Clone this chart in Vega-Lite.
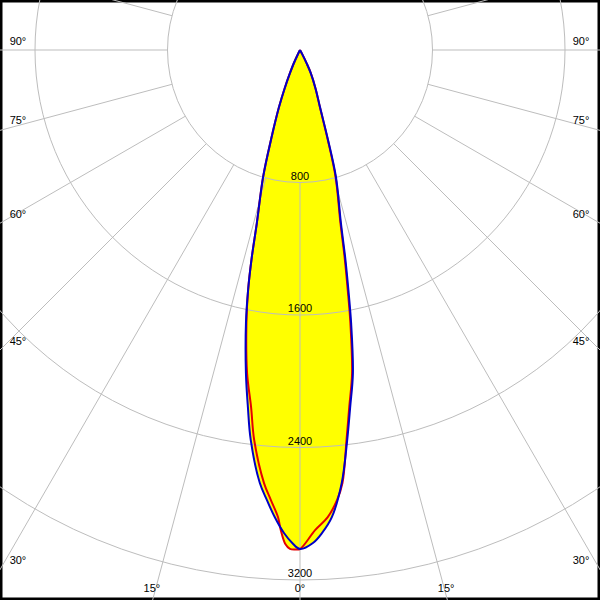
{
  "$schema": "https://vega.github.io/schema/vega-lite/v6.json",
  "width": 600,
  "height": 600,
  "autosize": {"type": "none"},
  "padding": 0,
  "background": "white",
  "config": {"view": {"stroke": "#000000", "strokeWidth": 5}},
  "datasets": {
    "blue": [
      {"a": -180, "i": 0}, {"a": -27.5, "i": 0}, {"a": -26.5, "i": 30}, {"a": -25, "i": 90},
      {"a": -23.5, "i": 151}, {"a": -21.8, "i": 250}, {"a": -20.2, "i": 367}, {"a": -17.9, "i": 571},
      {"a": -16.2, "i": 799}, {"a": -14.0, "i": 1077}, {"a": -13.1, "i": 1283}, {"a": -12.2, "i": 1483},
      {"a": -11.2, "i": 1680}, {"a": -9.5, "i": 1978}, {"a": -8.3, "i": 2179}, {"a": -7.2, "i": 2373},
      {"a": -5.3, "i": 2626}, {"a": -4.2, "i": 2725}, {"a": -3.1, "i": 2824}, {"a": -1.9, "i": 2918},
      {"a": -0.9, "i": 2977}, {"a": 0, "i": 3013}, {"a": 1.5, "i": 2978}, {"a": 2.6, "i": 2920},
      {"a": 3.9, "i": 2827}, {"a": 5.5, "i": 2627}, {"a": 6.9, "i": 2372}, {"a": 8.0, "i": 2177},
      {"a": 9.3, "i": 1977}, {"a": 10.6, "i": 1678}, {"a": 11.4, "i": 1478}, {"a": 12.3, "i": 1279},
      {"a": 13.3, "i": 1074}, {"a": 15.8, "i": 797}, {"a": 17.3, "i": 569}, {"a": 19.3, "i": 365},
      {"a": 22, "i": 250}, {"a": 25, "i": 154}, {"a": 26.5, "i": 90}, {"a": 28, "i": 30},
      {"a": 29, "i": 0}, {"a": 180, "i": 0}
    ],
    "red": [
      {"a": -180, "i": 0}, {"a": -27.5, "i": 0}, {"a": -26.5, "i": 30}, {"a": -25, "i": 90},
      {"a": -23.5, "i": 151}, {"a": -21.8, "i": 250}, {"a": -20.2, "i": 367}, {"a": -17.9, "i": 571},
      {"a": -16.2, "i": 799}, {"a": -14.0, "i": 1077}, {"a": -13.1, "i": 1283}, {"a": -12.2, "i": 1483},
      {"a": -11.1, "i": 1680}, {"a": -9.3, "i": 1977}, {"a": -7.8, "i": 2176}, {"a": -6.7, "i": 2371},
      {"a": -4.75, "i": 2624}, {"a": -3.7, "i": 2723}, {"a": -2.7, "i": 2823}, {"a": -2.3, "i": 2900},
      {"a": -1.7, "i": 2984}, {"a": -1.15, "i": 3013}, {"a": -0.5, "i": 3016}, {"a": 0, "i": 3013},
      {"a": 1.8, "i": 2900}, {"a": 3.4, "i": 2825}, {"a": 4.7, "i": 2727}, {"a": 5.6, "i": 2627},
      {"a": 6.8, "i": 2372}, {"a": 7.85, "i": 2177}, {"a": 9.15, "i": 1977}, {"a": 10.45, "i": 1678},
      {"a": 11.25, "i": 1478}, {"a": 12.15, "i": 1279}, {"a": 13.15, "i": 1074}, {"a": 15.65, "i": 797},
      {"a": 17.2, "i": 569}, {"a": 19.2, "i": 365}, {"a": 22, "i": 250}, {"a": 25, "i": 154},
      {"a": 26.5, "i": 90}, {"a": 28, "i": 30}, {"a": 29, "i": 0}, {"a": 180, "i": 0}
    ],
    "spokes": [
      {"a": -165}, {"a": -150}, {"a": -135}, {"a": -120}, {"a": -105}, {"a": -90}, {"a": -75}, {"a": -60},
      {"a": -45}, {"a": -30}, {"a": -15}, {"a": 0}, {"a": 15}, {"a": 30}, {"a": 45}, {"a": 60},
      {"a": 75}, {"a": 90}, {"a": 105}, {"a": 120}, {"a": 135}, {"a": 150}, {"a": 165}, {"a": 180}
    ],
    "rings": [
      {"r": 800, "t": "800"}, {"r": 1600, "t": "1600"}, {"r": 2400, "t": "2400"}, {"r": 3200, "t": "3200"}
    ],
    "angleLabels": [
      {"t": "90°", "lx": -1703, "ly": 48},
      {"t": "75°", "lx": -1703, "ly": -429},
      {"t": "60°", "lx": -1703, "ly": -996},
      {"t": "45°", "lx": -1703, "ly": -1763},
      {"t": "30°", "lx": -1703, "ly": -3085},
      {"t": "15°", "lx": -894, "ly": -3254},
      {"t": "0°", "lx": 0, "ly": -3254},
      {"t": "15°", "lx": 882, "ly": -3254},
      {"t": "30°", "lx": 1697, "ly": -3085},
      {"t": "45°", "lx": 1697, "ly": -1763},
      {"t": "60°", "lx": 1697, "ly": -996},
      {"t": "75°", "lx": 1697, "ly": -429},
      {"t": "90°", "lx": 1697, "ly": 48}
    ]
  },
  "encoding": {
    "x": {"field": "x", "type": "quantitative", "axis": null,
          "scale": {"domain": [-1811.32, 1811.32], "nice": false, "zero": false}},
    "y": {"field": "y", "type": "quantitative", "axis": null,
          "scale": {"domain": [-3320.75, 301.89], "nice": false, "zero": false}}
  },
  "layer": [
    {
      "data": {"name": "blue"},
      "transform": [
        {"calculate": "datum.i * sin(datum.a * PI / 180)", "as": "x"},
        {"calculate": "-datum.i * cos(datum.a * PI / 180)", "as": "y"}
      ],
      "mark": {"type": "line", "interpolate": "catmull-rom", "fill": "#ffff00", "stroke": null, "strokeWidth": 0, "clip": true},
      "encoding": {"order": {"field": "a", "type": "quantitative"}}
    },
    {
      "data": {"name": "red"},
      "transform": [
        {"calculate": "datum.i * sin(datum.a * PI / 180)", "as": "x"},
        {"calculate": "-datum.i * cos(datum.a * PI / 180)", "as": "y"}
      ],
      "mark": {"type": "line", "interpolate": "catmull-rom", "fill": "#ffff00", "stroke": null, "strokeWidth": 0, "clip": true},
      "encoding": {"order": {"field": "a", "type": "quantitative"}}
    },
    {
      "data": {"name": "rings"},
      "transform": [
        {"calculate": "0", "as": "x"},
        {"calculate": "0", "as": "y"}
      ],
      "mark": {"type": "arc", "filled": false, "stroke": "#bdbdbd", "strokeWidth": 1, "theta": 0, "theta2": 6.2832, "clip": true},
      "encoding": {
        "radius": {"field": "r", "type": "quantitative", "stack": null, "scale": {"type": "linear", "domain": [0, 3200], "range": [0, 530], "zero": true}}
      }
    },
    {
      "data": {"name": "spokes"},
      "transform": [
        {"calculate": "800 * sin(datum.a * PI / 180)", "as": "x"},
        {"calculate": "-800 * cos(datum.a * PI / 180)", "as": "y"},
        {"calculate": "6000 * sin(datum.a * PI / 180)", "as": "x2"},
        {"calculate": "-6000 * cos(datum.a * PI / 180)", "as": "y2"}
      ],
      "mark": {"type": "rule", "stroke": "#bdbdbd", "strokeWidth": 1, "clip": true},
      "encoding": {
        "x2": {"field": "x2"},
        "y2": {"field": "y2"}
      }
    },
    {
      "data": {"name": "red"},
      "transform": [
        {"calculate": "datum.i * sin(datum.a * PI / 180)", "as": "x"},
        {"calculate": "-datum.i * cos(datum.a * PI / 180)", "as": "y"}
      ],
      "mark": {"type": "line", "interpolate": "catmull-rom", "stroke": "#e60000", "strokeWidth": 2, "clip": true},
      "encoding": {"order": {"field": "a", "type": "quantitative"}}
    },
    {
      "data": {"name": "blue"},
      "transform": [
        {"calculate": "datum.i * sin(datum.a * PI / 180)", "as": "x"},
        {"calculate": "-datum.i * cos(datum.a * PI / 180)", "as": "y"}
      ],
      "mark": {"type": "line", "interpolate": "catmull-rom", "stroke": "#0000c8", "strokeWidth": 2, "clip": true},
      "encoding": {"order": {"field": "a", "type": "quantitative"}}
    },
    {
      "data": {"name": "rings"},
      "transform": [
        {"calculate": "0", "as": "x"},
        {"calculate": "-datum.r", "as": "y"}
      ],
      "mark": {"type": "text", "font": "Liberation Sans", "fontSize": 11, "fill": "#000000", "align": "center", "baseline": "middle", "dy": -6},
      "encoding": {"text": {"field": "t"}}
    },
    {
      "data": {"name": "angleLabels"},
      "transform": [
        {"calculate": "datum.lx", "as": "x"},
        {"calculate": "datum.ly", "as": "y"}
      ],
      "mark": {"type": "text", "font": "Liberation Sans", "fontSize": 11, "fill": "#000000", "align": "center", "baseline": "middle"},
      "encoding": {"text": {"field": "t"}}
    }
  ]
}
